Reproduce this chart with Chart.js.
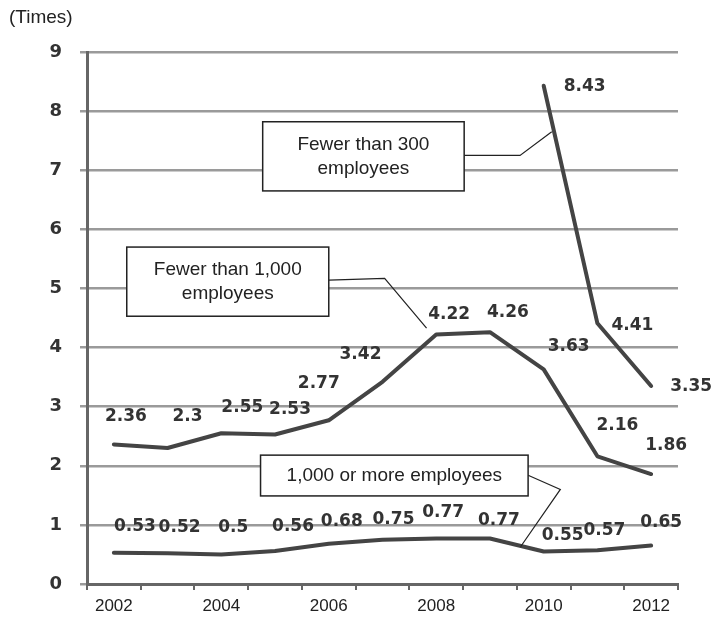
<!DOCTYPE html>
<html>
<head>
<meta charset="utf-8">
<script src="https://cdn.jsdelivr.net/npm/chart.js@4"></script>
<style>
  html, body { margin: 0; padding: 0; background: #fff; }
  #wrap { position: relative; width: 715px; height: 621px; }
</style>
</head>
<body>
<div id="wrap"><canvas id="chart"></canvas></div>
<script>
// Data
const years = ['2002', '2003', '2004', '2005', '2006', '2007', '2008', '2009', '2010', '2011', '2012'];
const under1000 = [2.36, 2.3, 2.55, 2.53, 2.77, 3.42, 4.22, 4.26, 3.63, 2.16, 1.86];
const under300 = [null, null, null, null, null, null, null, null, 8.43, 4.41, 3.35];
const over1000 = [0.53, 0.52, 0.5, 0.56, 0.68, 0.75, 0.77, 0.77, 0.55, 0.57, 0.65];
const yTicks = [0, 1, 2, 3, 4, 5, 6, 7, 8, 9];

const lineColor = '#444';
const gridColor = '#9a9a9a';
const axisColor = '#666';

// label offsets (px) from each point, per series
const labelOffsets = [
  [[12, -28], [20, -31], [21, -26], [15, -25], [-10, -37], [-22, -27], [13, -20], [18, -20], [25, -23], [20, -31], [15, -28]],
  [null, null, null, null, null, null, null, null, [41, 1], [35, 2], [40, 1]],
  [[21, -26], [12, -26], [12, -27], [18, -24], [13, -22], [11, -20], [7, -26], [9, -18], [19, -16], [7, -20], [10, -23]]
];

// callout boxes in axis units (x = category index, y = value)
const callouts = [
  { text: ['Fewer than 300', 'employees'], box: [2.77, 7.82, 6.52, 6.65],
    leader: [[6.52, 7.25], [7.56, 7.25], [8.15, 7.65]] },
  { text: ['Fewer than 1,000', 'employees'], box: [0.24, 5.7, 4.0, 4.53],
    leader: [[4.0, 5.14], [5.04, 5.17], [5.82, 4.33]] },
  { text: ['1,000 or more employees'], box: [2.73, 2.18, 7.71, 1.49],
    leader: [[7.71, 1.84], [8.31, 1.6], [7.57, 0.63]] }
];

const valueLabels = {
  id: 'valueLabels',
  afterDatasetsDraw(chart) {
    const ctx = chart.ctx;
    ctx.save();
    ctx.font = 'bold 17px "DejaVu Sans", sans-serif';
    ctx.fillStyle = '#333';
    ctx.textAlign = 'center';
    ctx.textBaseline = 'middle';
    chart.data.datasets.forEach((ds, i) => {
      chart.getDatasetMeta(i).data.forEach((pt, j) => {
        const v = ds.data[j];
        if (v === null) return;
        const off = labelOffsets[i][j] || [12, -25];
        ctx.fillText(String(v), pt.x + off[0], pt.y + off[1]);
      });
    });
    ctx.restore();
  }
};

const calloutBoxes = {
  id: 'calloutBoxes',
  afterDraw(chart) {
    const ctx = chart.ctx;
    const xs = chart.scales.x, ys = chart.scales.y;
    const px = (i) => xs.getPixelForValue(i);
    const py = (v) => ys.getPixelForValue(v);
    ctx.save();
    callouts.forEach((c) => {
      ctx.strokeStyle = '#222';
      ctx.lineWidth = 1.2;
      ctx.beginPath();
      c.leader.forEach((p, k) => {
        if (k === 0) ctx.moveTo(px(p[0]), py(p[1]));
        else ctx.lineTo(px(p[0]), py(p[1]));
      });
      ctx.stroke();

      const x0 = px(c.box[0]), y0 = py(c.box[1]), x1 = px(c.box[2]), y1 = py(c.box[3]);
      ctx.fillStyle = '#fff';
      ctx.fillRect(x0, y0, x1 - x0, y1 - y0);
      ctx.lineWidth = 1.5;
      ctx.strokeRect(x0, y0, x1 - x0, y1 - y0);

      ctx.fillStyle = '#222';
      ctx.font = '19px "Liberation Sans", Arial, sans-serif';
      ctx.textAlign = 'center';
      ctx.textBaseline = 'middle';
      const lh = 24;
      const cy = (y0 + y1) / 2 - (c.text.length - 1) * lh / 2;
      c.text.forEach((t, k) => ctx.fillText(t, (x0 + x1) / 2, cy + k * lh));
    });

    ctx.font = '19px "Liberation Sans", Arial, sans-serif';
    ctx.textAlign = 'left';
    ctx.textBaseline = 'middle';
    ctx.fillStyle = '#222';
    ctx.fillText('(Times)', 9, 18);
    ctx.restore();
  }
};

const seriesStyle = {
  borderColor: lineColor,
  borderWidth: 4,
  pointRadius: 0,
  tension: 0,
  fill: false,
  borderJoinStyle: 'round',
  borderCapStyle: 'round',
  spanGaps: false
};

new Chart(document.getElementById('chart'), {
  type: 'line',
  data: {
    labels: years,
    datasets: [
      Object.assign({ label: 'Fewer than 1,000 employees', data: under1000 }, seriesStyle),
      Object.assign({ label: 'Fewer than 300 employees', data: under300 }, seriesStyle),
      Object.assign({ label: '1,000 or more employees', data: over1000 }, seriesStyle)
    ]
  },
  options: {
    responsive: true,
    maintainAspectRatio: false,
    animation: false,
    layout: { padding: { left: 0, right: 37, top: 52, bottom: 0 } },
    plugins: {
      legend: { display: false },
      tooltip: { enabled: false }
    },
    scales: {
      x: {
        type: 'category',
        offset: true,
        afterFit: (s) => { s.height = 37; },
        border: { color: axisColor, width: 3 },
        grid: { offset: true, drawOnChartArea: false, drawTicks: true, tickLength: 6, color: axisColor, lineWidth: 2 },
        ticks: {
          autoSkip: false,
          maxRotation: 0,
          padding: 6,
          color: '#222',
          font: { family: '"Liberation Sans", Arial, sans-serif', size: 17 },
          callback: function (val, idx) { return idx % 2 === 0 ? this.getLabelForValue(val) : ''; }
        }
      },
      y: {
        min: 0,
        max: 9,
        afterFit: (s) => { s.width = 87; },
        afterBuildTicks: (s) => { s.ticks = yTicks.map((v) => ({ value: v })); },
        border: { color: axisColor, width: 3 },
        grid: { color: gridColor, lineWidth: 2.5, tickLength: 7, drawTicks: true },
        ticks: {
          padding: 18,
          color: '#333',
          font: { family: '"DejaVu Sans", sans-serif', size: 18, weight: 'bold' }
        }
      }
    }
  },
  plugins: [valueLabels, calloutBoxes]
});
</script>
</body>
</html>
